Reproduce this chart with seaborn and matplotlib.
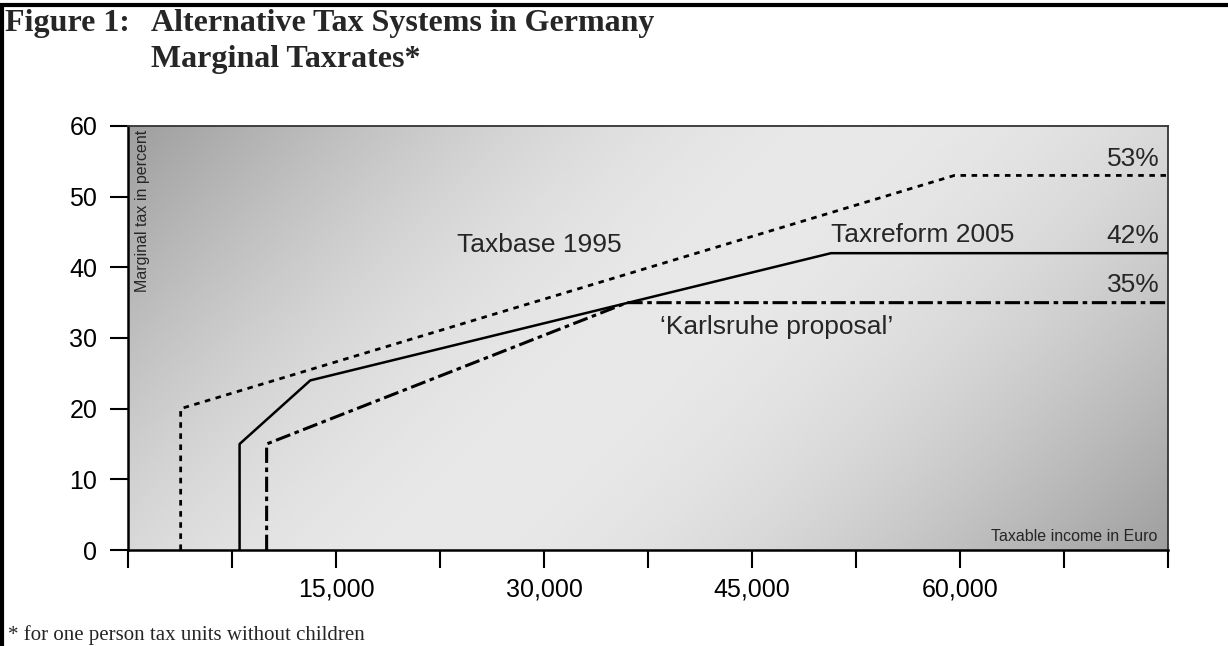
import numpy as np
import pandas as pd
import seaborn as sns
import matplotlib.pyplot as plt
from matplotlib.lines import Line2D

# Data (taxable income in Euro, marginal rate in %)
income_1995 = [3800, 3800, 59600, 75000]
rate_1995 = [0, 20, 53, 53]

income_2005 = [8050, 8050, 13150, 50700, 75000]
rate_2005 = [0, 15, 24, 42, 42]

income_karlsruhe = [10000, 10000, 36000, 75000]
rate_karlsruhe = [0, 15, 35, 35]

x_ticks = [0, 7500, 15000, 22500, 30000, 37500, 45000, 52500, 60000, 67500, 75000]
x_tick_labels = ['', '', '15,000', '', '30,000', '', '45,000', '', '60,000', '', '']
y_ticks = [0, 10, 20, 30, 40, 50, 60]

sns.set_theme(style='white')
plt.rcParams['font.family'] = ['Liberation Sans', 'DejaVu Sans']

fig = plt.figure(figsize=(12.28, 6.46), dpi=100)
ax = fig.add_axes([0.1042, 0.1486, 0.8469, 0.6564])

# Diagonal grey gradient background
ny, nx = 200, 500
yy, xx = np.mgrid[0:ny, 0:nx]
t = (xx / nx * 1040 + yy / ny * 424) / (1040 + 424)
grad = 0.62 + 0.29 * np.sin(np.pi * t)
ax.imshow(grad, cmap='gray', vmin=0, vmax=1, extent=[0, 75000, 0, 60],
          aspect='auto', origin='upper', zorder=0, interpolation='bicubic')

df_1995 = pd.DataFrame({'income': income_1995, 'rate': rate_1995})
df_2005 = pd.DataFrame({'income': income_2005, 'rate': rate_2005})
df_ka = pd.DataFrame({'income': income_karlsruhe, 'rate': rate_karlsruhe})

sns.lineplot(data=df_1995, x='income', y='rate', sort=False, estimator=None,
             color='black', linewidth=2.0, linestyle=(0, (2, 2)), ax=ax, zorder=3)
sns.lineplot(data=df_2005, x='income', y='rate', sort=False, estimator=None,
             color='black', linewidth=1.8, ax=ax, zorder=3)
sns.lineplot(data=df_ka, x='income', y='rate', sort=False, estimator=None,
             color='black', linewidth=2.2, linestyle=(0, (5, 1.5, 1.5, 1.5)), ax=ax, zorder=3)

ax.set_xlim(0, 75000)
ax.set_ylim(0, 60)
ax.set_xticks(x_ticks)
ax.set_xticklabels(x_tick_labels)
ax.set_yticks(y_ticks)
ax.set_xlabel('')
ax.set_ylabel('')
ax.tick_params(axis='both', direction='out', length=13, width=1.5, color='black',
               labelsize=18, labelcolor='black', bottom=True, left=True)
ax.tick_params(axis='x', pad=7)
ax.tick_params(axis='y', pad=9)

for side in ['top', 'right']:
    ax.spines[side].set_color('#333333')
    ax.spines[side].set_linewidth(1.3)
for side in ['left', 'bottom']:
    ax.spines[side].set_color('black')
    ax.spines[side].set_linewidth(1.8)

# Series labels
ax.text(29700, 43.1, 'Taxbase 1995', fontsize=19, ha='center', va='center')
ax.text(57300, 44.6, 'Taxreform 2005', fontsize=19, ha='center', va='center')
ax.text(46800, 31.6, '\u2018Karlsruhe proposal\u2019', fontsize=19, ha='center', va='center')
ax.text(74400, 55.3, '53%', fontsize=19, ha='right', va='center')
ax.text(74400, 44.5, '42%', fontsize=19, ha='right', va='center')
ax.text(74400, 37.5, '35%', fontsize=19, ha='right', va='center')

ax.text(0.014, 0.99, 'Marginal tax in percent', transform=ax.transAxes, rotation=90,
        fontsize=11.5, ha='center', va='top')
ax.text(0.99, 0.015, 'Taxable income in Euro', transform=ax.transAxes,
        fontsize=11.5, ha='right', va='bottom')

# Title and footnote
serif = ['Liberation Serif', 'DejaVu Serif']
fig.text(5 / 1228, 1 - 24 / 646, 'Figure 1:', family=serif, fontsize=23,
         fontweight='bold', ha='left', va='center')
fig.text(151 / 1228, 1 - 24 / 646, 'Alternative Tax Systems in Germany', family=serif,
         fontsize=23, fontweight='bold', ha='left', va='center')
fig.text(151 / 1228, 1 - 60 / 646, 'Marginal Taxrates*', family=serif,
         fontsize=23, fontweight='bold', ha='left', va='center')
fig.text(8 / 1228, 1 - 635 / 646, '* for one person tax units without children', family=serif,
         fontsize=15, ha='left', va='center')

# Frame lines at top and left edge
fig.add_artist(Line2D([0, 1], [1 - 5 / 646, 1 - 5 / 646], transform=fig.transFigure,
                      color='black', linewidth=3))
fig.add_artist(Line2D([2 / 1228, 2 / 1228], [0, 1 - 5 / 646], transform=fig.transFigure,
                      color='black', linewidth=3))

fig.savefig('out.png', dpi=100)
